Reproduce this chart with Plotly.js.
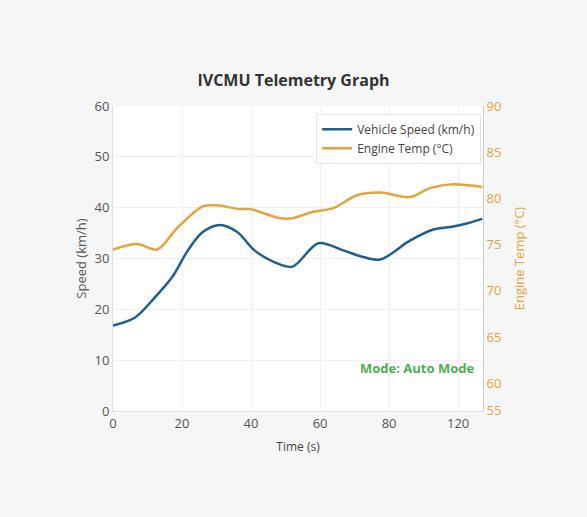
<!DOCTYPE html>
<html>
<head>
<meta charset="utf-8">
<script src="https://cdn.plot.ly/plotly-3.0.1.min.js"></script>
<style>html,body{margin:0;padding:0;background:#f6f6f6;}#chart{width:587px;height:517px;}</style>
</head>
<body>
<div id="chart"></div>
<script>
const speedTime = [0, 6.4, 12.2, 17.1, 21.7, 26, 31, 36, 41, 47, 52, 59.5, 66.7, 72, 77.4, 86, 92.8, 98.6, 103, 107];
const speedVals = [16.8, 18.4, 22.4, 26.3, 31.6, 35.2, 36.6, 35.2, 31.6, 29.2, 28.4, 33.0, 31.6, 30.4, 29.8, 33.5, 35.7, 36.3, 37.0, 37.8];
const tempTime = [0, 7, 12.8, 18.5, 26, 30, 36.8, 39.7, 48.4, 52, 58, 63.8, 70.7, 77.4, 86, 92, 98.6, 107];
const tempVals = [74.5, 75.1, 74.5, 76.8, 79.2, 79.3, 78.9, 78.9, 77.9, 77.9, 78.6, 79.0, 80.4, 80.7, 80.2, 81.2, 81.6, 81.3];
const xTickVals = [0, 20, 40, 60, 80, 100];
const xTickText = ['0', '20', '40', '60', '80', '120'];
const y2TickVals = [57, 60, 65, 70, 75, 80, 85, 90];
const y2TickText = ['55', '60', '65', '70', '75', '80', '85', '90'];

const font = 'Open Sans, Noto Sans, sans-serif';
const blue = '#1f5f8e';
const orange = '#e6a23c';

const traces = [
  {x: speedTime, y: speedVals, name: 'Vehicle Speed (km/h)', type: 'scatter', mode: 'lines',
   line: {color: blue, width: 2.5, shape: 'spline', smoothing: 0.9}},
  {x: tempTime, y: tempVals, name: 'Engine Temp (°C)', type: 'scatter', mode: 'lines', yaxis: 'y2',
   line: {color: orange, width: 2.5, shape: 'spline', smoothing: 0.9}}
];

const layout = {
  width: 587, height: 517,
  paper_bgcolor: '#f6f6f6', plot_bgcolor: '#ffffff',
  margin: {l: 113, r: 104, t: 106, b: 106},
  font: {family: font, size: 12, color: '#555'},
  title: {text: '<b>IVCMU Telemetry Graph</b>', x: 0.5, xanchor: 'center', y: 0.845, yanchor: 'middle',
          font: {family: font, size: 16, color: '#333'}},
  showlegend: true,
  legend: {x: 0.995, xanchor: 'right', y: 0.975, yanchor: 'top', bgcolor: '#ffffff',
           bordercolor: '#e4e4e4', borderwidth: 1, font: {family: font, size: 12, color: '#444'}},
  xaxis: {range: [0, 107.2], tickvals: xTickVals, ticktext: xTickText, showgrid: true, gridcolor: '#f0f0f0',
          zeroline: false, showline: true, linecolor: '#dddddd', ticks: '',
          tickfont: {size: 13, color: '#555'},
          title: {text: 'Time (s)', font: {size: 12, color: '#444'}, standoff: 12}},
  yaxis: {range: [0, 60], dtick: 10, showgrid: true, gridcolor: '#f0f0f0', zeroline: false,
          showline: true, linecolor: '#dddddd', ticks: '', tickfont: {size: 13, color: '#555'},
          title: {text: 'Speed (km/h)', font: {size: 13, color: '#555'}, standoff: 4}},
  yaxis2: {overlaying: 'y', side: 'right', range: [56.95, 90.1], tickvals: y2TickVals, ticktext: y2TickText,
           showgrid: false, zeroline: false, showline: true, linecolor: '#cccccc', ticks: '',
           tickfont: {size: 13, color: orange},
           title: {text: 'Engine Temp (°C)', font: {size: 13, color: orange}, standoff: 14}},
  annotations: [{text: '<b>Mode: Auto Mode</b>', xref: 'paper', yref: 'paper', x: 0.98, y: 0.14,
                 xanchor: 'right', yanchor: 'middle', showarrow: false,
                 font: {family: font, size: 13, color: '#4caf50'}}]
};

Plotly.newPlot('chart', traces, layout, {displayModeBar: false, staticPlot: true});
</script>
</body>
</html>
